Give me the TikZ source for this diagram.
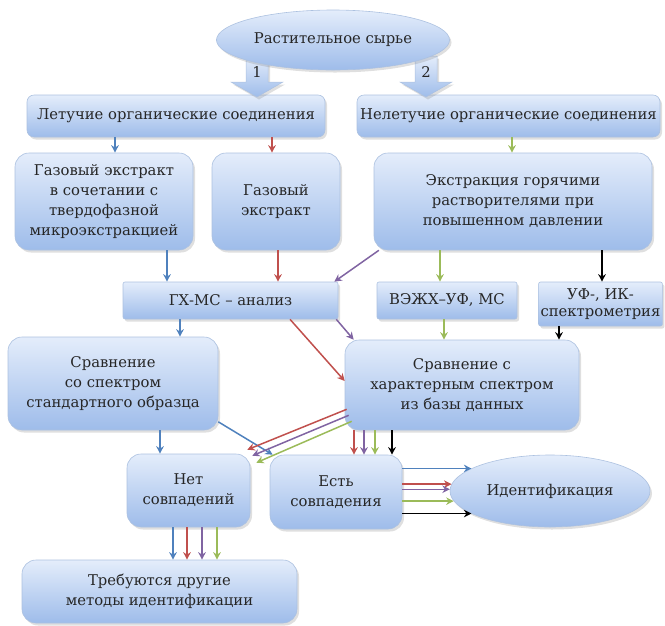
\documentclass[tikz,border=0pt]{standalone}
\usepackage{fontspec}
\setmainfont{DejaVu Serif}
\newfontfamily\rufont{DejaVu Serif}
\usepackage{tikz}
\usetikzlibrary{arrows.meta, positioning, calc, shapes.geometric, shadows}

\definecolor{cblue}{RGB}{79,129,189}
\definecolor{cred}{RGB}{192,80,77}
\definecolor{cpurple}{RGB}{128,100,162}
\definecolor{cgreen}{RGB}{155,187,89}
\definecolor{boxtop}{RGB}{228,237,251}
\definecolor{boxbot}{RGB}{158,188,234}
\definecolor{boxline}{RGB}{172,193,224}

\begin{document}
\begin{tikzpicture}[
    x=1pt, y=-1pt,
    every node/.style={font=\rufont\fontsize{14.8}{20}\selectfont, text=black!85, align=center}, % 统一字体
    base/.style={draw=boxline, line width=0.6pt, top color=boxtop, bottom color=boxbot,
        drop shadow={opacity=0.25, shadow xshift=2pt, shadow yshift=-2.5pt}, inner sep=2pt}, % 渐变填充+阴影
    rbox/.style={base, rectangle, rounded corners=14pt}, % 大圆角框
    pbox/.style={base, rectangle, rounded corners=7pt},  % 小圆角框
    sbox/.style={base, rectangle, rounded corners=2pt},  % 近似直角框
    oval/.style={base, ellipse, inner sep=0pt},          % 椭圆
    barrow/.style={base, line width=0.5pt},              % 粗箭头 1, 2
    con/.style={line width=1.5pt, -{Stealth[length=7.5pt, width=7.5pt]}} % 彩色连线
]
    \useasboundingbox (0,0) rectangle (665,625);

    % 1. 第一层:两类化合物
    \node[pbox, minimum width=298pt, minimum height=42pt] (volatile) at (176,116) {Летучие органические соединения};
    \node[pbox, minimum width=303pt, minimum height=42pt] (nonvol) at (508.5,116) {Нелетучие органические соединения};

    % 粗箭头 1, 2(在椭圆下面)
    \foreach \xa/\lab in {257/1, 426/2} {
        \draw[barrow] ({\xa-11},56) -- ({\xa+11},56) -- ({\xa+11},82) -- ({\xa+26},82)
            -- (\xa,97) -- ({\xa-26},82) -- ({\xa-11},82) -- cycle;
        \node (num\lab) at (\xa,72) {\lab};
    }
    \node[oval, minimum width=233pt, minimum height=60pt] (raw) at (333,40) {Растительное сырье};

    % 2. 提取方法
    \node[rbox, minimum width=178pt, minimum height=97pt] (hsspme) at (104,201.5)
        {Газовый экстракт\\в сочетании с\\твердофазной\\микроэкстракцией};
    \node[rbox, minimum width=128pt, minimum height=97pt] (hs) at (276,201.5) {Газовый\\экстракт};
    \node[rbox, minimum width=278pt, minimum height=97pt] (phwe) at (513,201.5)
        {Экстракция горячими\\растворителями при\\повышенном давлении};

    % 3. 分析方法
    \node[sbox, minimum width=215pt, minimum height=37pt] (gcms) at (230.5,300.5) {ГХ-МС – анализ};
    \node[sbox, minimum width=140pt, minimum height=37pt] (hplc) at (447,300.5) {ВЭЖХ–УФ, МС};
    \node[sbox, minimum width=123pt, minimum height=44pt, font=\rufont\fontsize{14.8}{17}\selectfont] (uvir) at (600.5,304)
        {УФ-, ИК-\\спектрометрия};

    % 4. 谱图比较
    \node[rbox, minimum width=210pt, minimum height=93pt] (cmpstd) at (113,383.5)
        {Сравнение\\со спектром\\стандартного образца};
    \node[rbox, minimum width=234pt, minimum height=90pt] (cmpdb) at (462,385)
        {Сравнение с\\характерным спектром\\из базы данных};

    % 5. 结果
    \node[rbox, minimum width=123pt, minimum height=73pt] (nomatch) at (188.5,490.5) {Нет\\совпадений};
    \node[rbox, minimum width=132pt, minimum height=74pt] (match) at (336,492) {Есть\\совпадения};
    \node[oval, minimum width=200pt, minimum height=72pt] (ident) at (550,491) {Идентификация};
    \node[rbox, minimum width=275pt, minimum height=63pt] (other) at (159.5,591.5)
        {Требуются другие\\методы идентификации};

    % 连线:第一层 -> 提取
    \draw[con, cblue] (volatile.south -| 115,0) -- (hsspme.north -| 115,0);
    \draw[con, cred] (volatile.south -| 272,0) -- (hs.north -| 272,0);
    \draw[con, cgreen] (nonvol.south -| 512,0) -- (phwe.north -| 512,0);

    % 提取 -> 分析
    \draw[con, cblue] (hsspme.south -| 167,0) -- (gcms.north -| 167,0);
    \draw[con, cred] (hs.south -| 278,0) -- (gcms.north -| 278,0);
    \draw[con, cpurple] (phwe.-160) -- ([xshift=-4pt]gcms.north east);
    \draw[con, cgreen] (phwe.south -| 440,0) -- (hplc.north -| 440,0);
    \draw[con, black] (phwe.south -| 602,0) -- (uvir.north -| 602,0);

    % 分析 -> 比较
    \draw[con, cblue] (gcms.south -| 180,0) -- (cmpstd.north -| 180,0);
    \draw[con, cred] (gcms.south -| 290,0) -- ([yshift=4pt]cmpdb.west);
    \draw[con, cpurple] ([xshift=-2pt]gcms.south east) -- ([xshift=9pt]cmpdb.north west);
    \draw[con, cgreen] (hplc.south -| 444,0) -- (cmpdb.north -| 444,0);
    \draw[con, black] (uvir.south -| 559,0) -- (cmpdb.north -| 559,0);

    % 比较 -> 结果
    \draw[con, cblue] (cmpstd.south -| 160,0) -- (nomatch.north -| 160,0);
    \draw[con, cblue] (cmpstd.-20) -- ([xshift=3pt]match.north west);
    \draw[con, cred] ([shift={(2pt,21pt)}]cmpdb.south west) -- ([shift={(-3pt,4pt)}]nomatch.north east);
    \draw[con, cpurple] ([shift={(4pt,15pt)}]cmpdb.south west) -- ([shift={(2pt,-2pt)}]nomatch.north east);
    \draw[con, cgreen] ([shift={(7pt,9pt)}]cmpdb.south west) -- ([shift={(6pt,-9pt)}]nomatch.north east);
    \foreach \xa/\col in {354/cred, 364/cpurple, 375/cgreen, 392/black} {
        \draw[con, \col] (cmpdb.south -| \xa,0) -- (match.north -| \xa,0);
    }

    % 结果 -> 下一步
    \foreach \xa/\col in {173/cblue, 187/cred, 202/cpurple, 217/cgreen} {
        \draw[con, \col] (nomatch.south -| \xa,0) -- (other.north -| \xa,0);
    }
    \foreach \ang/\col in {164/cblue, 176/cred, 179/cpurple, 186/cgreen, 196/black} {
        \draw[con, \col] (match.east |- ident.\ang) -- (ident.\ang);
    }

\end{tikzpicture}
\end{document}
